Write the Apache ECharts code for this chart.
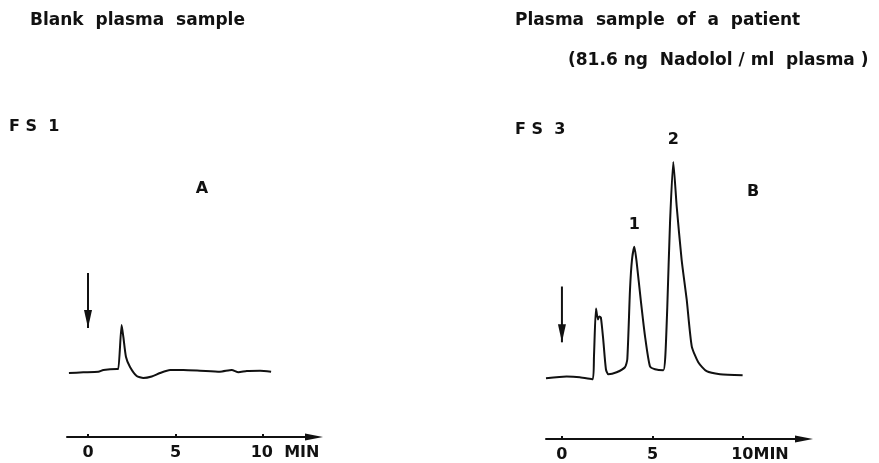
<!DOCTYPE html>
<html><head><meta charset="utf-8">
<script src="https://cdn.jsdelivr.net/npm/echarts@6/dist/echarts.min.js"></script>
<style>html,body{margin:0;padding:0;background:#fff}#c{width:879px;height:463px}</style>
</head><body><div id="c"></div>
<script>
// Retention time (min) and detector response (arbitrary units, baseline = 0)
const timeA = [-1.09,-0.27,0.59,0.88,1.64,1.73,1.92,2.02,2.17,2.40,2.78,3.16,3.64,4.11,4.69,5.45,6.40,7.54,8.21,8.59,9.07,9.83,10.46];
const respA = [0.0,0.07,0.13,0.3,0.4,0.4,4.8,3.6,1.6,0.6,-0.3,-0.5,-0.35,0.0,0.3,0.3,0.23,0.13,0.3,0.07,0.2,0.23,0.13];
const timeB = [-0.88,0.26,0.99,1.70,1.77,1.88,1.99,2.06,2.15,2.28,2.43,2.56,3.02,3.48,3.61,3.76,3.87,4.00,4.13,4.35,4.59,4.86,5.14,5.60,5.71,5.82,5.97,6.15,6.34,6.61,6.89,7.17,7.53,7.99,8.73,9.98];
const respB = [-0.1,0.07,0.0,-0.2,2.1,6.9,5.8,6.1,6.0,3.8,0.8,0.3,0.5,1.0,1.8,8.8,11.8,13.1,11.5,7.8,4.1,1.1,0.8,0.7,2.1,7.1,15.5,21.6,17.1,11.8,7.8,3.1,1.5,0.6,0.3,0.2];
// Injection arrows [time, top, tip]
const injectA = [0, 10.0, 4.5];
const injectB = [0, 9.1, 3.5];
// Peak labels [label, time, response]
const peaksB = [['1', 4.00, 13.1], ['2', 6.15, 21.6]];
const tickValues = [0, 5, 10];
const titles = {
  leftTitle: 'Blank  plasma  sample',
  rightTitle: 'Plasma  sample  of  a  patient',
  rightSub: '(81.6 ng  Nadolol / ml  plasma )',
  fsA: 'F S  1', fsB: 'F S  3', panelA: 'A', panelB: 'B'
};

const FONT = '"DejaVu Sans", sans-serif';
const INK = '#111';

function pts(t, v) { return t.map((x, i) => [x, v[i]]); }
function arrow(a, xi, yi) {
  return {
    type: 'line', xAxisIndex: xi, yAxisIndex: yi, silent: true,
    lineStyle: { color: INK, width: 2 }, itemStyle: { color: INK },
    showSymbol: true,
    data: [
      { value: [a[0], a[1]], symbol: 'none' },
      { value: [a[0], a[2]], symbol: 'triangle', symbolSize: [8, 18], symbolRotate: 180, symbolOffset: [0, '-50%'] }
    ]
  };
}
function xAx(gi, min, max, tenLabel, padW) {
  return {
    type: 'value', gridIndex: gi, min: min, max: max,
    splitLine: { show: false },
    axisLine: { show: true, onZero: false, lineStyle: { color: INK, width: 2 }, symbol: ['none', 'triangle'], symbolSize: [7, 18] },
    axisTick: { show: true, inside: true, length: 3, customValues: tickValues, lineStyle: { color: INK, width: 2 } },
    axisLabel: {
      customValues: tickValues, color: INK, fontSize: 16, fontFamily: FONT, fontWeight: 'bold', margin: 8,
      formatter: v => v === 10 ? '{p|}' + tenLabel : String(v),
      rich: { p: { width: padW } }
    }
  };
}
function yAx(gi, min, max) {
  return { type: 'value', gridIndex: gi, min: min, max: max, show: false, splitLine: { show: false } };
}
function txt(t, x, y, size, align) {
  return { type: 'text', x: x, y: y, style: { text: t, fill: INK, fontSize: size, fontFamily: FONT, fontWeight: 'bold', align: align || 'left', verticalAlign: 'middle' } };
}

const chart = echarts.init(document.getElementById('c'), null, { renderer: 'canvas' });
chart.setOption({
  animation: false,
  backgroundColor: '#fff',
  grid: [
    { left: 67, right: 565, top: 137, bottom: 26 },
    { left: 546, right: 75, top: 140, bottom: 23 }
  ],
  xAxis: [xAx(0, -1.2, 12.91, '10  MIN', 44), xAx(1, -0.88, 13.37, '10MIN', 34)],
  yAxis: [yAx(0, -6.4, 23.6), yAx(1, -6.2, 23.8)],
  series: [
    { type: 'line', xAxisIndex: 0, yAxisIndex: 0, data: pts(timeA, respA), showSymbol: false, smooth: 0.2,
      lineStyle: { color: INK, width: 2 }, silent: true },
    { type: 'line', xAxisIndex: 1, yAxisIndex: 1, data: pts(timeB, respB), showSymbol: false, smooth: 0.2,
      lineStyle: { color: INK, width: 2 }, silent: true,
      markPoint: {
        symbol: 'circle', symbolSize: 0, silent: true,
        label: { show: true, position: 'top', distance: 14, color: INK, fontSize: 16, fontWeight: 'bold', fontFamily: FONT, formatter: p => p.name },
        data: peaksB.map(p => ({ name: p[0], coord: [p[1], p[2]] }))
      } },
    arrow(injectA, 0, 0),
    arrow(injectB, 1, 1)
  ],
  graphic: [
    txt(titles.leftTitle, 30, 21, 17),
    txt(titles.rightTitle, 515, 21, 17),
    txt(titles.rightSub, 568, 61, 17),
    txt(titles.fsA, 9, 127, 16),
    txt(titles.fsB, 515, 130, 16),
    txt(titles.panelA, 202, 189, 16, 'center'),
    txt(titles.panelB, 753, 192, 16, 'center')
  ]
});
</script></body></html>
